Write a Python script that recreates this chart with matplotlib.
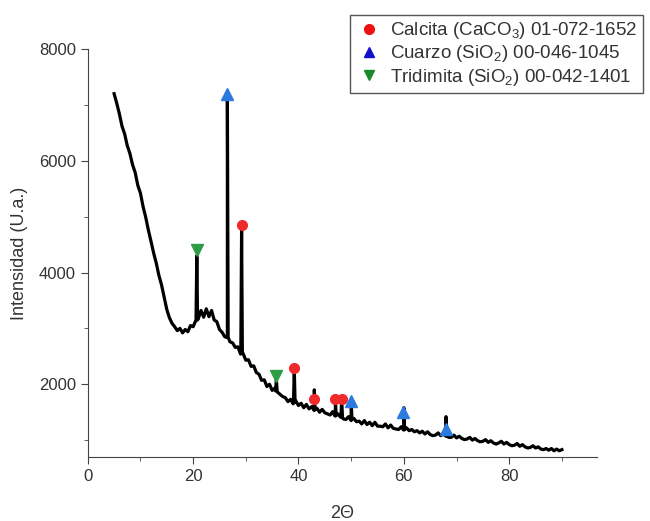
import numpy as np
import matplotlib.pyplot as plt
from matplotlib.lines import Line2D
from matplotlib.ticker import MultipleLocator

plt.rcParams['font.family'] = ['Liberation Sans', 'DejaVu Sans']
plt.rcParams['mathtext.default'] = 'regular'

# background of the XRD pattern, 5..90 deg step 0.5
two_theta = np.arange(5.0, 90.01, 0.5)
intensity = [
    7200, 7030, 6840, 6620, 6480, 6270, 6130, 5930, 5790, 5560,
    5420, 5180, 4990, 4760, 4560, 4350, 4170, 3950, 3780, 3560,
    3340, 3190, 3090, 3030, 2960, 3000, 2920, 2980, 2940, 3050,
    3030, 3140, 3180, 3320, 3200, 3350, 3210, 3320, 3150, 3120,
    2980, 2930, 2850, 2840, 2760, 2740, 2660, 2670, 2540, 2550,
    2430, 2440, 2320, 2330, 2210, 2180, 2070, 2080, 1960, 2000,
    1890, 1930, 1860, 1820, 1780, 1760, 1690, 1730, 1650, 1700,
    1620, 1660, 1580, 1640, 1560, 1600, 1530, 1570, 1500, 1550,
    1490, 1470, 1450, 1510, 1430, 1470, 1410, 1380, 1370, 1420,
    1350, 1390, 1330, 1340, 1290, 1350, 1280, 1320, 1260, 1320,
    1250, 1250, 1240, 1290, 1220, 1270, 1210, 1200, 1190, 1240,
    1180, 1220, 1170, 1190, 1150, 1170, 1130, 1160, 1110, 1150,
    1100, 1080, 1090, 1130, 1080, 1110, 1070, 1050, 1050, 1090,
    1040, 1070, 1030, 1010, 1020, 1050, 1000, 1030, 990, 970,
    980, 1010, 960, 990, 950, 930, 950, 980, 930, 960,
    920, 900, 910, 940, 890, 920, 880, 860, 870, 900,
    860, 880, 840, 830, 850, 820, 850, 810, 840, 810,
    830,
]

# sharp reflections: position, top, foot
peak_pos = [20.7, 26.5, 29.2, 35.8, 39.2, 43.0, 47.0, 48.2, 50.0, 60.0, 68.0]
peak_top = [4300, 7180, 4760, 2080, 2270, 1900, 1720, 1730, 1680, 1580, 1420]
peak_foot = [3150, 2840, 2550, 1880, 1680, 1550, 1440, 1410, 1370, 1190, 1080]

# phase markers
calcita_x = [29.2, 39.2, 43.0, 47.0, 48.2]
calcita_y = [4850, 2290, 1730, 1740, 1745]
cuarzo_x = [26.5, 50.0, 59.9, 68.0]
cuarzo_y = [7190, 1700, 1500, 1200]
tridimita_x = [20.7, 35.8]
tridimita_y = [4400, 2150]

xs = list(two_theta)
ys = list(intensity)
for p, t, f in zip(peak_pos, peak_top, peak_foot):
    xs += [p - 0.15, p, p + 0.15]
    ys += [f, t, f]
order = np.argsort(xs, kind="stable")
xs = np.array(xs)[order]
ys = np.array(ys)[order]

fig = plt.figure(figsize=(6.5, 5.21), dpi=100)
ax = fig.add_axes([0.135, 0.123, 0.783, 0.783])

ax.plot(xs, ys, color="black", lw=2.3)
ax.plot(calcita_x, calcita_y, "o", color="#f02a2a", ms=7, ls="none")
ax.plot(cuarzo_x, cuarzo_y, "^", color="#2a7ae0", ms=8, ls="none")
ax.plot(tridimita_x, tridimita_y, "v", color="#2e9e46", ms=8, ls="none")

ax.set_xlim(0, 96.6)
ax.set_ylim(700, 8000)
ax.xaxis.set_major_locator(MultipleLocator(20))
ax.xaxis.set_minor_locator(MultipleLocator(10))
ax.yaxis.set_major_locator(MultipleLocator(2000))
ax.yaxis.set_minor_locator(MultipleLocator(1000))
ax.spines["top"].set_visible(False)
ax.spines["right"].set_visible(False)
for s in ("left", "bottom"):
    ax.spines[s].set_color("#444444")
ax.tick_params(which="major", length=5, color="#444444", labelsize=12, labelcolor="#333333")
ax.tick_params(which="minor", length=3, color="#444444")
ax.set_xlabel("2Θ", fontsize=13, color="#333333", labelpad=15)
ax.set_ylabel("Intensidad (U.a.)", fontsize=13, color="#333333", labelpad=8)

handles = [
    Line2D([], [], marker="o", color="#ee1111", ls="none", ms=7),
    Line2D([], [], marker="^", color="#1111cc", ls="none", ms=7),
    Line2D([], [], marker="v", color="#1a8a2a", ls="none", ms=7),
]
labels = [
    "Calcita (CaCO$_3$) 01-072-1652",
    "Cuarzo (SiO$_2$) 00-046-1045",
    "Tridimita (SiO$_2$) 00-042-1401",
]
leg = fig.legend(handles, labels, loc="upper left", bbox_to_anchor=(0.538, 0.972),
                 borderaxespad=0, fontsize=13.5, frameon=True, fancybox=False,
                 framealpha=1, edgecolor="#555555", handletextpad=0.35,
                 borderpad=0.3, labelspacing=0.12, handlelength=1.5)
leg.get_frame().set_linewidth(1.0)
for t in leg.get_texts():
    t.set_color("#333333")

fig.savefig("out.png", dpi=100)
